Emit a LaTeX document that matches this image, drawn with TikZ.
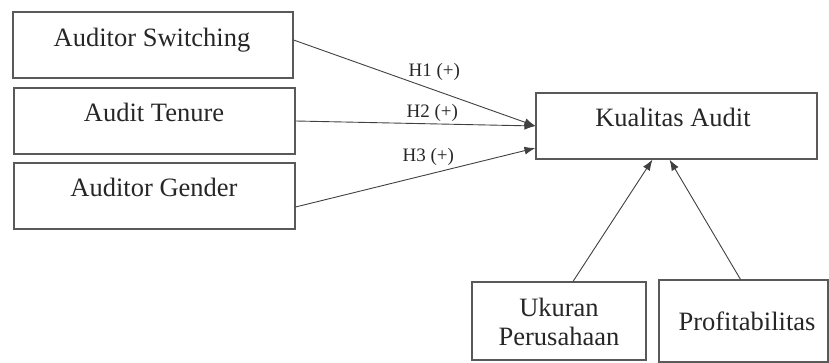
\documentclass[tikz,border=0pt]{standalone}
\usepackage{fontspec}
\setmainfont{Liberation Serif}
\usetikzlibrary{arrows.meta}

\tikzset{
  varbox/.style={draw=black!65, line width=1.1pt, minimum width=#1, inner sep=0pt},
  vartext/.style={font=\fontsize{26.5}{29}\selectfont, text=black!85, anchor=base},
  hyplabel/.style={font=\fontsize{19}{21}\selectfont, text=black!85, anchor=base west},
  arr/.style={draw=black!75, line width=0.9pt, -{Latex[length=11pt,width=8pt]}}
}

\begin{document}
\begin{tikzpicture}[x=1pt,y=-1pt]
    \useasboundingbox (0,0) rectangle (829,363);

    % variabel independen
    \node[varbox=280, minimum height=66] (switch) at (153,45) {};
    \node[vartext] (switchtxt) at (152,47) {Auditor Switching};
    \node[varbox=281, minimum height=66] (tenure) at (154.5,121) {};
    \node[vartext] (tenuretxt) at (154,122) {Audit Tenure};
    \node[varbox=281, minimum height=66] (gender) at (154.5,196) {};
    \node[vartext] (gendertxt) at (154,197) {Auditor Gender};

    % variabel dependen
    \node[varbox=281, minimum height=66] (kualitas) at (676.5,126) {};
    \node[vartext] (kualitastxt) at (673,127) {Kualitas Audit};

    % variabel kontrol
    \node[varbox=174, minimum height=78] (ukuran) at (559,321) {};
    \node[vartext] (ukurantxt) at (559,316) {Ukuran};
    \node[vartext] (perusahaantxt) at (559,345) {Perusahaan};
    \node[varbox=169, minimum height=82] (profit) at (743.5,321) {};
    \node[vartext] (profittxt) at (747,330) {Profitabilitas};

    % hipotesis
    \draw[arr] ([yshift=5pt]switch.east) -- (kualitas.west);
    \draw[arr] (tenure.east) -- (kualitas.west);
    \draw[arr] ([yshift=-11pt]gender.east) -- ([yshift=-22pt]kualitas.west);
    \node[hyplabel] (h1) at (405,77) {H1 (+)};
    \node[hyplabel] (h2) at (403,118) {H2 (+)};
    \node[hyplabel] (h3) at (399,162) {H3 (+)};

    \draw[arr] ([xshift=14pt]ukuran.north) -- ([xshift=-24pt]kualitas.south);
    \draw[arr] ([xshift=-3pt]profit.north) -- ([xshift=-7pt]kualitas.south);
\end{tikzpicture}
\end{document}
